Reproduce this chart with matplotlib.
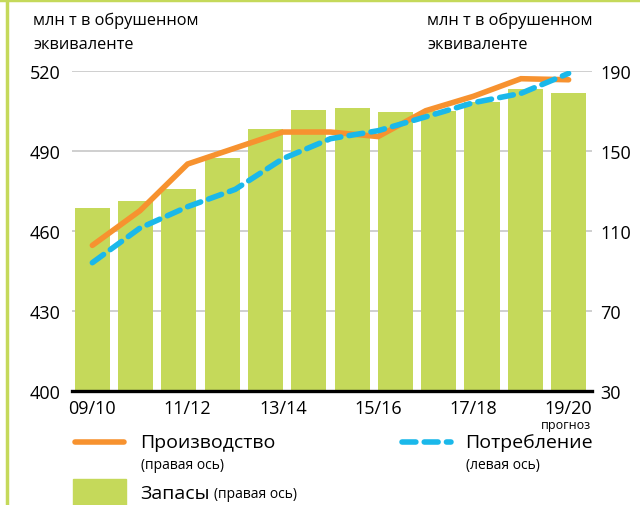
import numpy as np
import matplotlib.pyplot as plt
from matplotlib.lines import Line2D
from matplotlib.patches import Rectangle

plt.rcParams['font.family'] = ['Open Sans', 'DejaVu Sans']

# запасы, 12 сезонов (правая ось)
stocks = [121.5, 125, 131, 146.5, 161, 170.5, 171.5, 169.5, 170, 174.5, 181, 179]
# производство и потребление, 09/10 - 19/20 (левая ось)
production = [454.5, 467.5, 485, 491, 497, 497, 495.3, 505, 510.4, 517, 516.6]
consumption = [448, 461, 469, 475.5, 487, 494.5, 497.5, 502.7, 508, 511.5, 519]
tick_labels = ["09/10", "11/12", "13/14", "15/16", "17/18", "19/20"]
left_ticks = [400, 430, 460, 490, 520]
right_ticks = [30, 70, 110, 150, 190]

GREEN = "#c5d95a"
ORANGE = "#f7922f"
BLUE = "#1ab8ea"

W, H = 640, 506
fig = plt.figure(figsize=(W / 100, H / 100), dpi=100)


def fx(px):
    return px / W


def fy(py):
    return 1 - py / H


ax = fig.add_axes([fx(72), fy(391.7), fx(592) - fx(72), fy(71.7) - fy(391.7)])
ax2 = ax.twinx()
ax.set_zorder(ax2.get_zorder() + 1)
ax.patch.set_visible(False)

bar_x = np.arange(len(stocks))
ax2.bar(bar_x, stocks, width=0.81, color=GREEN, zorder=2)
ax2.set_ylim(30, 190)
ax2.set_yticks(right_ticks)
for v in right_ticks[1:]:
    ax2.axhline(v, color="#cccccc", linewidth=1.3, zorder=0)

line_x = np.linspace(0, len(stocks) - 1, len(production))
ax.plot(line_x, production, color=ORANGE, linewidth=4, solid_capstyle="round",
        solid_joinstyle="miter", zorder=3)
ax.plot(line_x, consumption, color=BLUE, linewidth=4, dashes=(2.5, 1.5),
        dash_capstyle="round", zorder=4)
ax.set_ylim(400, 520)
ax.set_yticks(left_ticks)
ax.set_xlim(-0.47, len(stocks) - 1 + 0.54)
ax.set_xticks(np.linspace(0, len(stocks) - 1, len(tick_labels)))
ax.set_xticklabels(tick_labels)

for a in (ax, ax2):
    for s in a.spines.values():
        s.set_visible(False)
    a.tick_params(length=0, labelsize=13)
ax.spines["bottom"].set_visible(True)
ax.spines["bottom"].set_linewidth(2.4)
ax.spines["bottom"].set_color("black")
ax.spines["bottom"].set_zorder(5)
ax.tick_params(axis="y", pad=8)
ax2.tick_params(axis="y", pad=6)
ax.tick_params(axis="x", pad=6)

fig.text(fx(591), fy(425), "прогноз", fontsize=9, ha="right", va="center")

# подписи осей
for x0 in (33, 427):
    fig.text(fx(x0), fy(21), "млн т в обрушенном", fontsize=11.8, ha="left", va="center")
    fig.text(fx(x0), fy(45), "эквиваленте", fontsize=11.8, ha="left", va="center")

# рамка
fig.add_artist(Line2D([0, 1], [fy(1), fy(1)], color=GREEN, linewidth=2.5))
fig.add_artist(Line2D([fx(6.5), fx(6.5)], [0, 1], color=GREEN, linewidth=2.5))

# легенда
fig.add_artist(Line2D([fx(75), fx(124)], [fy(443), fy(443)], color=ORANGE,
                      linewidth=4, solid_capstyle="round"))
fig.text(fx(140), fy(443), "Производство", fontsize=14, ha="left", va="center")
fig.text(fx(141), fy(466), "(правая ось)", fontsize=10, ha="left", va="center")

fig.add_artist(Line2D([fx(402), fx(451)], [fy(443), fy(443)], color=BLUE,
                      linewidth=4, dashes=(2.5, 1.5), dash_capstyle="round"))
fig.text(fx(465), fy(443), "Потребление", fontsize=14, ha="left", va="center")
fig.text(fx(466), fy(466), "(левая ось)", fontsize=10, ha="left", va="center")

fig.add_artist(Rectangle((fx(73), fy(506)), fx(126) - fx(73), fy(480) - fy(506),
                         color=GREEN, transform=fig.transFigure))
t = fig.text(fx(140), fy(494), "Запасы", fontsize=14, ha="left", va="center")
bb = t.get_window_extent(renderer=fig.canvas.get_renderer())
fig.text(fx(bb.x1 + 5), fy(495), "(правая ось)", fontsize=10, ha="left", va="center")

fig.savefig("out.png", dpi=100)
